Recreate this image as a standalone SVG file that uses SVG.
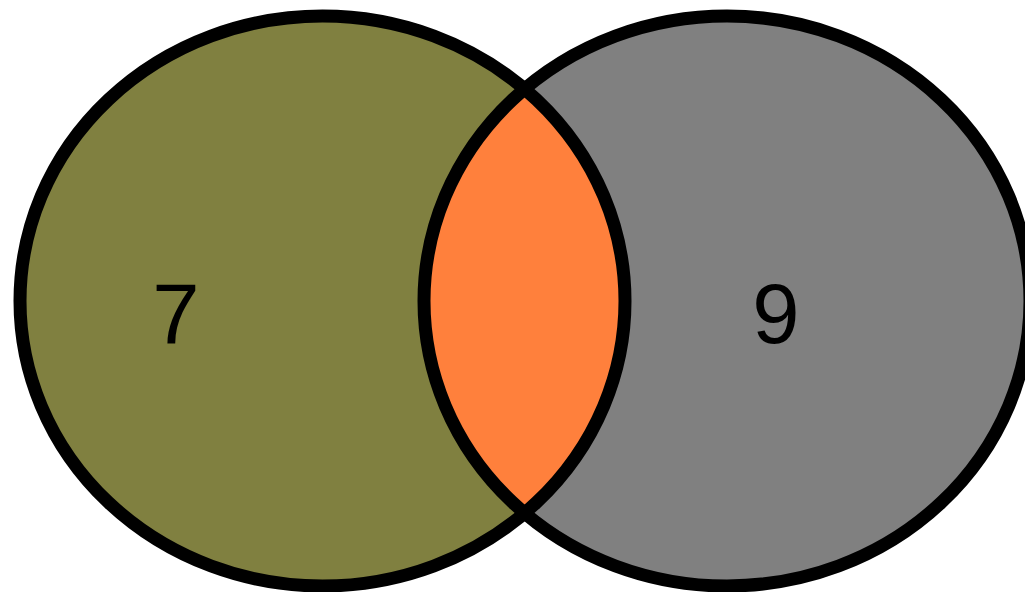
<svg xmlns="http://www.w3.org/2000/svg" width="1025" height="592" viewBox="0 0 1025 592">
<style>
.ring{fill:none;stroke:#000;stroke-width:13}
.lbl{font-family:"Liberation Sans",Arial,sans-serif;font-size:85px;fill:#000;text-anchor:middle}
</style>
<defs>
<clipPath id="clipA"><ellipse cx="322.5" cy="301" rx="302.5" ry="285"/></clipPath>
</defs>
<rect width="1025" height="592" fill="#fff"/>
<g id="setA"><ellipse cx="322.5" cy="301" rx="302.5" ry="285" fill="#808040"/></g>
<g id="setB"><ellipse cx="727" cy="301" rx="303" ry="285" fill="#808080"/></g>
<g id="overlap"><ellipse cx="727" cy="301" rx="303" ry="285" fill="#ff803c" clip-path="url(#clipA)"/></g>
<g id="outlines">
<ellipse class="ring" cx="322.5" cy="301" rx="302.5" ry="285"/>
<ellipse class="ring" cx="727" cy="301" rx="303" ry="285"/>
</g>
<g id="labelA"><text class="lbl" x="176" y="343">7</text></g>
<g id="labelB"><text class="lbl" x="776" y="343">9</text></g>
</svg>
